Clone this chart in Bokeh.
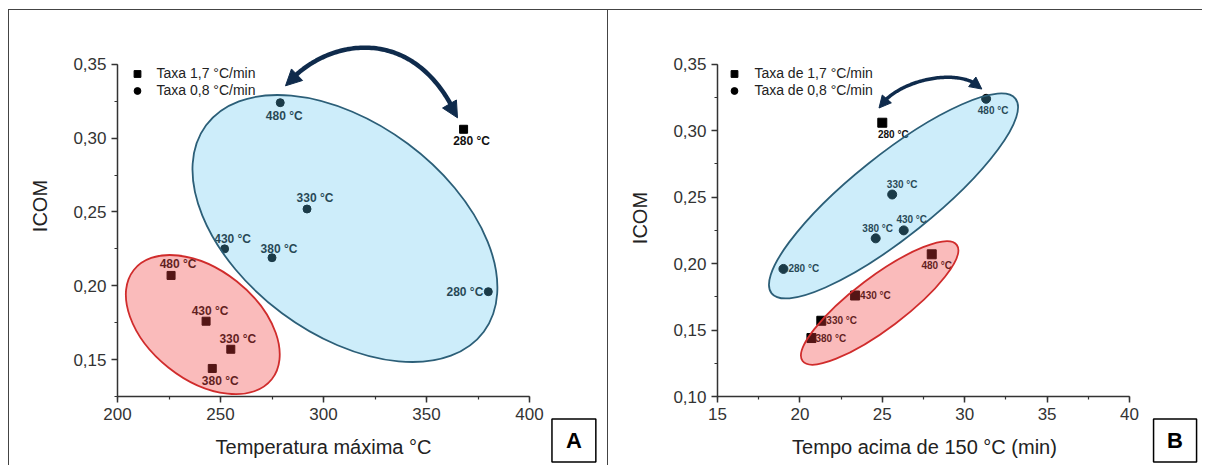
import numpy as np
from bokeh.plotting import figure
from bokeh.models import (ColumnDataSource, Legend, LegendItem, Range1d, SingleIntervalTicker,
                          CustomJSTickFormatter, Arrow, NormalHead, Label, PolyAnnotation)
from bokeh.layouts import row
from bokeh.embed import file_html
from bokeh.resources import INLINE

# ---------------- data ----------------
temp_labels = ["280 °C", "330 °C", "380 °C", "430 °C", "480 °C"]
icom_rate17 = [0.306, 0.157, 0.144, 0.176, 0.207]
icom_rate08 = [0.196, 0.252, 0.219, 0.225, 0.324]
tmax_rate17 = [368, 255, 246, 243, 226]
tmax_rate08 = [380, 292, 275, 252, 279]
time_rate17 = [25.0, 21.3, 20.7, 23.35, 28.0]
time_rate08 = [19.0, 25.6, 24.6, 26.3, 31.3]

# ---------------- styles ----------------
FONT = "Liberation Sans"
AXC = "#333333"
ARROWC = "#0f2b4c"
RED_FILL, RED_LINE = "#f03c3c", "#d02c2c"
BLUE_FILL, BLUE_LINE = "#5ac3f0", "#2c5f78"
BORDER = "1.5px solid #444"
H = 456

# label offsets (dx, dy, align) per point, order as temp_labels
offA17 = [(8, 12, "center"), (7, -10, "center"), (8, 13, "center"), (4, -10, "center"), (7, -11, "center")]
offA08 = [(-5, 0, "right"), (8, -11, "center"), (7, -9, "center"), (8, -10, "center"), (4, 13, "center")]
offB17 = [(11, 12, "center"), (5, 0, "left"), (4, 0, "left"), (5, 0, "left"), (5, 11, "center")]
offB08 = [(5, 0, "left"), (10, -10, "center"), (2, -10, "center"), (8, -11, "center"), (7, 12, "center")]


def style_axes(p, xint, yint, xb, yb):
    p.xaxis.ticker = SingleIntervalTicker(interval=xint, num_minor_ticks=2)
    p.yaxis.ticker = SingleIntervalTicker(interval=yint, num_minor_ticks=2)
    p.yaxis.formatter = CustomJSTickFormatter(code="return tick.toFixed(2).replace('.', ',');")
    p.xaxis.bounds = xb
    p.yaxis.bounds = yb
    p.xaxis.fixed_location = yb[0]
    p.yaxis.fixed_location = xb[0]
    for ax in (p.xaxis[0], p.yaxis[0]):
        ax.axis_line_color = AXC
        ax.axis_line_width = 1.5
        ax.major_tick_line_color = AXC
        ax.minor_tick_line_color = AXC
        ax.major_tick_line_width = 1.5
        ax.minor_tick_line_width = 1.2
        ax.major_tick_in = 0
        ax.major_tick_out = 6
        ax.minor_tick_in = 0
        ax.minor_tick_out = 3
        ax.major_label_text_font = FONT
        ax.major_label_text_font_size = "17px"
        ax.major_label_text_color = "#333333"
    p.grid.visible = False
    p.outline_line_color = None


def bezier(P, t):
    t = np.asarray(t)[:, None] if np.ndim(t) else t
    P = np.asarray(P, dtype=float)
    return ((1 - t) ** 3) * P[0] + 3 * ((1 - t) ** 2) * t * P[1] + 3 * (1 - t) * t ** 2 * P[2] + t ** 3 * P[3]


def add_arrow(p, P, lw, head):
    tt = np.linspace(0.05, 0.95, 80)
    pts = bezier(P, tt)
    p.line(pts[:, 0], pts[:, 1], line_color=ARROWC, line_width=lw)
    for t0, t1 in ((0.12, 0.0), (0.88, 1.0)):
        a = bezier(P, t0)
        b = bezier(P, t1)
        p.add_layout(Arrow(end=NormalHead(size=head, fill_color=ARROWC, line_color=ARROWC),
                           x_start=a[0], y_start=a[1], x_end=b[0], y_end=b[1],
                           line_alpha=0))


def make_panel(xs17, xs08, xr, yr, xint, xb, yb, xlabel, xlabel_xy, ylabel_xy, width,
               off17, off08, lab_size, msize, legend_labels, legend_loc, ellipses, arrowP,
               arrow_lw, arrow_head, tag, tag_xy, tag_box, styles, margin):
    p = figure(width=width, height=H, x_range=Range1d(*xr), y_range=Range1d(*yr),
               output_backend="svg", toolbar_location=None,
               min_border_left=0, min_border_right=0, min_border_top=0, min_border_bottom=0,
               background_fill_color="white", border_fill_color="white", styles=styles,
               margin=margin)
    style_axes(p, xint, 0.05, xb, yb)

    s17 = ColumnDataSource(dict(x=xs17, y=icom_rate17, t=temp_labels,
                                dx=[o[0] for o in off17], dy=[o[1] for o in off17],
                                al=[o[2] for o in off17]))
    s08 = ColumnDataSource(dict(x=xs08, y=icom_rate08, t=temp_labels,
                                dx=[o[0] for o in off08], dy=[o[1] for o in off08],
                                al=[o[2] for o in off08]))
    r17 = p.scatter("x", "y", source=s17, marker="square", size=msize, color="black")
    r08 = p.scatter("x", "y", source=s08, marker="circle", size=msize, color="black")
    for s in (s17, s08):
        p.text("x", "y", text="t", source=s, x_offset="dx", y_offset="dy", text_align="al",
               text_baseline="middle", text_font_size=lab_size, text_font_style="bold",
               text_color="#111111", text_font={"value": FONT})

    # ellipses (on top, translucent)
    for (cx, cy, w, h, ang, fc, lc) in ellipses:
        p.ellipse(x=[cx], y=[cy], width=[w], height=[h], angle=[ang],
                  width_units="screen", height_units="screen",
                  fill_color=fc, fill_alpha=0.3 if fc == BLUE_FILL else 0.35,
                  line_color=lc, line_width=1.8)

    add_arrow(p, arrowP, arrow_lw, arrow_head)

    legend = Legend(items=[LegendItem(label=legend_labels[0], renderers=[r17]),
                           LegendItem(label=legend_labels[1], renderers=[r08])],
                    location=legend_loc, background_fill_alpha=0, border_line_color=None,
                    label_text_font=FONT, label_text_font_size="14px", label_text_color="#222222",
                    glyph_width=20, glyph_height=17, label_height=17, spacing=0, padding=0,
                    margin=0, label_standoff=10)
    p.add_layout(legend)

    # axis titles
    p.add_layout(Label(x=xlabel_xy[0], y=xlabel_xy[1], text=xlabel, text_align="center",
                       text_baseline="middle", text_font=FONT, text_font_size="20px",
                       text_color="#222222"))
    p.add_layout(Label(x=ylabel_xy[0], y=ylabel_xy[1], text="ICOM", text_align="center",
                       text_baseline="middle", text_font=FONT, text_font_size="20px",
                       text_color="#222222", angle=np.pi / 2))

    # panel tag box
    (x0, x1), (y0, y1) = tag_box
    p.add_layout(PolyAnnotation(xs=[x0, x1, x1, x0], ys=[y0, y0, y1, y1],
                                fill_alpha=0, line_color="black", line_alpha=1.0,
                                line_width=1.5))
    p.add_layout(Label(x=tag_xy[0], y=tag_xy[1], text=tag,
                       text_align="center", text_baseline="middle", text_font=FONT,
                       text_font_size="22px", text_font_style="bold", text_color="black"))
    return p


pA = make_panel(
    tmax_rate17, tmax_rate08, (147.57, 438.83), (0.38645 - H / 1476.4, 0.38645), 50,
    (200, 400), (0.125, 0.3501),
    "Temperatura máxima °C", (300.0, 0.0908), (162.4, 0.2540), 600,
    offA17, offA08, "12px", 8,
    ["Taxa 1,7 °C/min", "Taxa 0,8 °C/min"], (117.5, H - 88.5),
    [(310.4, 0.2388, 346, 211, -0.639, BLUE_FILL, BLUE_LINE),
     (241.4, 0.1737, 176, 110, -0.670, RED_FILL, RED_LINE)],
    [(281.55, 0.33543), (300.97, 0.36795), (344.17, 0.37879), (365.05, 0.31375)], 4.5, 16,
    "A", (421.6, 0.0952), ((410.9, 432.2), (0.10977, 0.08064)),
    {"border-left": BORDER, "border-top": BORDER, "border-right": BORDER}, (9, 0, 0, 8))

pB = make_panel(
    time_rate17, time_rate08, (8.386, 44.43), (0.39045 - H / 1329.0, 0.39045), 5,
    (15, 40), (0.10, 0.3501),
    "Tempo acima de 150 °C (min)", (27.56, 0.0620), (10.27, 0.2343), 594,
    offB17, offB08, "10px", 9,
    ["Taxa de 1,7 °C/min", "Taxa de 0,8 °C/min"], (116.4, H - 88.8),
    [(25.68, 0.2509, 312, 82, 0.674, BLUE_FILL, BLUE_LINE),
     (24.84, 0.1704, 193, 52, 0.646, RED_FILL, RED_LINE)],
    [(24.80, 0.31707), (25.89, 0.33887), (29.83, 0.34865), (31.04, 0.33135)], 3.5, 12,
    "B", (42.76, 0.0669), ((41.46, 44.07), (0.08308, 0.05072)),
    {"border-top": BORDER}, (9, 0, 0, 0))

layout = row(pA, pB)
open("out.html", "w").write(file_html(layout, INLINE))
